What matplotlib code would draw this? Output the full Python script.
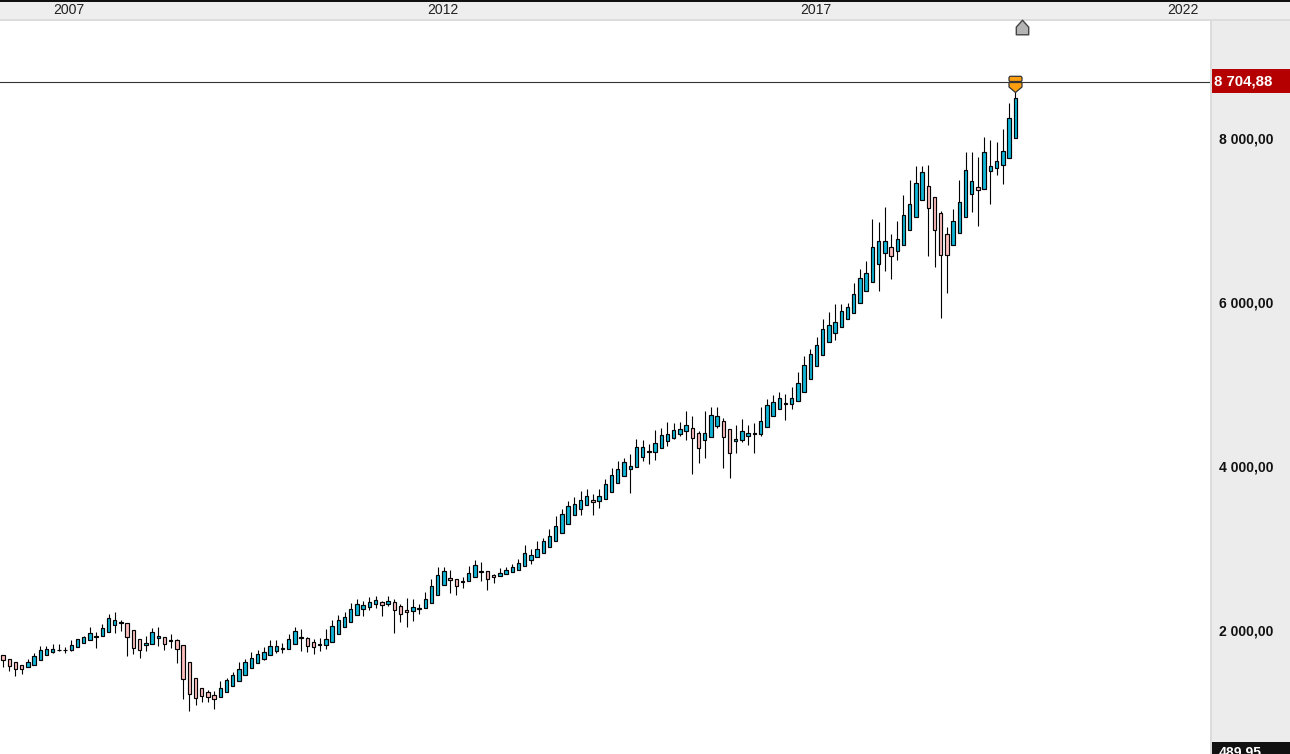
import matplotlib
matplotlib.use("Agg")
import matplotlib.pyplot as plt
from matplotlib.patches import Rectangle
from matplotlib.path import Path

plt.rcParams["font.family"] = ["Liberation Sans", "DejaVu Sans"]

# monthly candles, values
opens = [1709, 1669, 1624, 1587, 1563, 1587, 1648, 1709, 1746, 1770, 1770, 1770, 1807, 1856, 1892, 1930,
         1941, 1990, 2075, 2100, 2099, 2014, 1904, 1831, 1843, 1917, 1929, 1880, 1892, 1831, 1624, 1429,
         1307, 1258, 1221, 1197, 1258, 1331, 1392, 1465, 1551, 1612, 1668, 1709, 1758, 1787, 1782, 1843,
         1918, 1916, 1868, 1832, 1831, 1868, 1966, 2051, 2112, 2197, 2270, 2295, 2331, 2356, 2331, 2356,
         2307, 2258, 2246, 2271, 2283, 2344, 2441, 2563, 2649, 2636, 2601, 2612, 2661, 2723, 2734, 2685,
         2673, 2697, 2722, 2746, 2795, 2868, 2905, 2953, 3026, 3099, 3197, 3307, 3416, 3490, 3538, 3599,
         3587, 3612, 3697, 3807, 3892, 3977, 4002, 4124, 4186, 4185, 4234, 4319, 4356, 4404, 4441, 4477,
         4416, 4331, 4368, 4502, 4563, 4465, 4319, 4331, 4380, 4405, 4404, 4490, 4624, 4709, 4772, 4770,
         4807, 4917, 5075, 5234, 5368, 5526, 5636, 5709, 5807, 5880, 6002, 6148, 6258, 6478, 6612, 6685,
         6636, 6709, 6892, 7051, 7258, 7429, 7294, 7099, 6843, 6709, 6855, 7051, 7331, 7416, 7392, 7612,
         7648, 7685, 7770, 8014]
highs = [1709, 1669, 1624, 1587, 1660, 1734, 1823, 1823, 1847, 1847, 1807, 1896, 1913, 1941, 2055, 1990,
         2091, 2213, 2238, 2140, 2099, 2014, 1904, 1941, 2043, 2055, 1929, 1969, 1904, 1831, 1624, 1429,
         1307, 1282, 1270, 1396, 1429, 1502, 1628, 1660, 1750, 1770, 1807, 1892, 1892, 1855, 1965, 2055,
         2030, 1929, 1904, 1916, 2026, 2144, 2201, 2234, 2344, 2392, 2368, 2417, 2429, 2368, 2429, 2392,
         2331, 2405, 2392, 2331, 2478, 2636, 2783, 2783, 2746, 2636, 2661, 2795, 2868, 2844, 2734, 2697,
         2770, 2783, 2819, 2880, 3051, 3002, 3100, 3136, 3246, 3404, 3490, 3587, 3636, 3709, 3734, 3673,
         3734, 3856, 3990, 4075, 4112, 4160, 4343, 4331, 4282, 4453, 4477, 4551, 4538, 4551, 4685, 4624,
         4441, 4685, 4734, 4734, 4599, 4465, 4514, 4587, 4514, 4538, 4734, 4831, 4880, 4917, 4892, 4978,
         5161, 5356, 5441, 5587, 5807, 5892, 5990, 5990, 6002, 6246, 6417, 6514, 7026, 6990, 7173, 6843,
         7002, 7323, 7502, 7673, 7673, 7685, 7294, 7124, 6929, 7148, 7502, 7843, 7843, 7782, 8026, 7990,
         7965, 8124, 8441, 8705]
lows = [1571, 1522, 1461, 1486, 1563, 1587, 1648, 1709, 1734, 1758, 1734, 1758, 1807, 1856, 1892, 1803,
        1941, 1990, 1986, 2010, 1705, 1730, 1681, 1766, 1843, 1827, 1778, 1803, 1620, 1181, 1034, 1108,
        1144, 1144, 1059, 1197, 1258, 1331, 1392, 1465, 1551, 1612, 1656, 1709, 1734, 1734, 1782, 1843,
        1762, 1754, 1721, 1762, 1782, 1868, 1966, 2051, 2112, 2197, 2193, 2258, 2283, 2193, 2315, 1986,
        2120, 2059, 2132, 2209, 2283, 2344, 2441, 2563, 2474, 2445, 2527, 2612, 2661, 2620, 2506, 2596,
        2673, 2697, 2722, 2746, 2795, 2823, 2905, 2953, 3026, 3099, 3197, 3307, 3416, 3416, 3538, 3425,
        3510, 3612, 3697, 3807, 3892, 3693, 4002, 4083, 4047, 4095, 4234, 4266, 4343, 4380, 4339, 3925,
        4059, 4120, 4368, 4477, 3998, 3876, 4181, 4307, 4278, 4181, 4380, 4490, 4624, 4709, 4575, 4709,
        4807, 4917, 5075, 5234, 5368, 5526, 5559, 5709, 5807, 5880, 6002, 6148, 6258, 6157, 6400, 6303,
        6535, 6709, 6892, 7051, 7258, 6583, 6449, 5827, 6132, 6709, 6855, 7051, 7120, 6949, 7392, 7217,
        7571, 7461, 7770, 8014]
closes = [1648, 1575, 1539, 1539, 1624, 1697, 1770, 1782, 1782, 1775, 1775, 1831, 1904, 1929, 1978, 1940,
          2039, 2160, 2136, 2110, 1929, 1795, 1770, 1856, 1990, 1941, 1843, 1892, 1782, 1417, 1234, 1185,
          1209, 1197, 1173, 1307, 1404, 1465, 1539, 1624, 1673, 1721, 1746, 1819, 1819, 1797, 1904, 2002,
          1928, 1819, 1807, 1842, 1904, 2063, 2136, 2173, 2270, 2331, 2319, 2356, 2380, 2319, 2368, 2258,
          2209, 2234, 2295, 2281, 2392, 2551, 2685, 2734, 2624, 2551, 2611, 2709, 2807, 2733, 2636, 2661,
          2709, 2746, 2783, 2831, 2953, 2929, 3002, 3099, 3160, 3282, 3429, 3526, 3551, 3599, 3648, 3575,
          3648, 3795, 3904, 3977, 4063, 4014, 4246, 4246, 4196, 4295, 4392, 4404, 4453, 4465, 4514, 4356,
          4234, 4416, 4636, 4624, 4368, 4173, 4343, 4441, 4416, 4415, 4563, 4758, 4795, 4844, 4782, 4844,
          5027, 5246, 5380, 5490, 5685, 5734, 5770, 5904, 5953, 6112, 6307, 6368, 6685, 6758, 6758, 6575,
          6783, 7075, 7209, 7465, 7599, 7160, 6892, 6587, 6587, 7002, 7234, 7624, 7490, 7380, 7843, 7673,
          7734, 7855, 8258, 8502]

year_ticks = [10.6, 70.9, 130.9, 190]
year_labels = ["2007", "2012", "2017", "2022"]
price_ticks = [2000, 4000, 6000, 8000]
price_labels = ["2 000,00", "4 000,00", "6 000,00", "8 000,00"]
last_price = 8704.88
last_label = "8 704,88"
low_price = 489.95
low_label = "489,95"

W, H = 1290, 754
BLUE = "#0fb4d6"
PINK = "#ffbfbf"
PANEL = "#ececec"
BORDER = "#dcdcdc"

fig = plt.figure(figsize=(W / 100, H / 100), dpi=100, facecolor="white")
ax = fig.add_axes([0, 0, 1210 / W, 734 / H])
ax2 = fig.add_axes([1211 / W, 0, 79 / W, 734 / H], sharey=ax, facecolor=PANEL)
ax.patch.set_visible(False)
ax.set_zorder(6)  # house marker pokes over the header border

# candles
xs = list(range(len(opens)))
ax.vlines(xs, lows, highs, color="black", lw=0.8, zorder=2)
bottoms = [min(o, c) for o, c in zip(opens, closes)]
heights = [abs(o - c) for o, c in zip(opens, closes)]
colors = [BLUE if c >= o else PINK for o, c in zip(opens, closes)]
ax.bar(xs, heights, 0.55, bottoms, color=colors, edgecolor="black", linewidth=0.85, zorder=3)

ax.axhline(last_price, color="#333333", lw=0.8, zorder=1)

ax.set_xlim(-3 / 6.21, 1207 / 6.21)
ax.set_ylim(506, 9457)
ax.xaxis.tick_top()
ax.set_xticks(year_ticks, year_labels, fontsize=10.1, color="#222222")
ax.tick_params(axis="x", length=0, pad=2.5)
ax.tick_params(axis="y", left=False, labelleft=False)
for s in ax.spines.values():
    s.set_visible(False)

# markers above the last candle
house = Path([(-0.85, -1), (0.85, -1), (0.85, 0.05), (0, 1), (-0.85, 0.05), (-0.85, -1)], closed=True)
ax.plot([164.1], [9375], marker=house, ms=10.5, mfc="#b4b4b4", mec="#444444", mew=1, ls="none",
        clip_on=False, zorder=6)
shield = Path([(-0.55, 0.62), (0.55, 0.62), (0.65, 0.5), (0.65, 0.2), (0.55, 0.1), (-0.55, 0.1), (-0.65, 0.2),
               (-0.65, 0.5), (-0.55, 0.62),
               (-0.65, 0), (0.65, 0), (0.65, -0.45), (0, -1), (-0.65, -0.45), (-0.65, 0)],
              [Path.MOVETO] + [Path.LINETO] * 7 + [Path.CLOSEPOLY]
              + [Path.MOVETO] + [Path.LINETO] * 4 + [Path.CLOSEPOLY])
ax.plot([163], [last_price], marker=shield, ms=14.4, mfc="#ff9f0f", mec="#333333", mew=0.9, ls="none",
        clip_on=False, zorder=6)

# right price panel
ax2.set_xlim(0, 79)
ax2.set_xticks([])
ax2.tick_params(axis="y", right=False, left=False, labelleft=False)
for s in ax2.spines.values():
    s.set_visible(False)
for p, lab in zip(price_ticks, price_labels):
    ax2.annotate(lab, (8, p), xytext=(0, 0), textcoords="offset points", fontsize=10.1,
                 fontweight="bold", color="#111111", va="center")

ax2.axhspan(last_price - 134, last_price + 158, color="#b40000", lw=0, zorder=3)
ax2.annotate(last_label, (3, last_price), xytext=(0, 0), textcoords="offset points", color="white",
             fontsize=10.8, fontweight="bold", va="center", zorder=4)
ax2.axhspan(low_price, 652, color="#111111", lw=0, zorder=3)
ax2.annotate(low_label, (8, low_price), xytext=(0, 1.7), textcoords="offset points", color="white",
             fontsize=10.1, fontweight="bold", va="center", zorder=4, annotation_clip=False)

# frame: header band and panel border
fig.patches.append(Rectangle((0, 734 / H), 1, 20 / H, transform=fig.transFigure, fc="#eeeeee", ec="none", zorder=-1))
fig.patches.append(Rectangle((0, 733 / H), 1, 2 / H, transform=fig.transFigure, fc=BORDER, ec="none", zorder=5))
fig.patches.append(Rectangle((0, 752 / H), 1, 2 / H, transform=fig.transFigure, fc="#111111", ec="none", zorder=5))
fig.patches.append(Rectangle((1210 / W, 0), 2 / W, 734 / H, transform=fig.transFigure, fc=BORDER, ec="none", zorder=5))

fig.savefig("out.png", dpi=100)
